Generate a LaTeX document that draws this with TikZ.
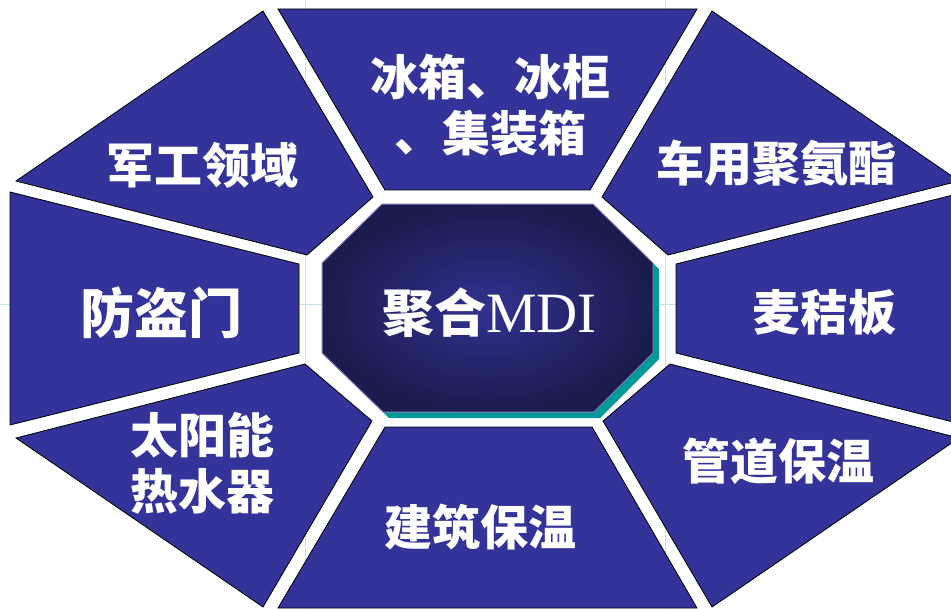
\documentclass[tikz,border=0pt]{standalone}
\usepackage{fontspec}
\newfontfamily\cjk{Noto Sans CJK SC}
\newfontfamily\latin{Liberation Serif}
\definecolor{segblue}{RGB}{51,51,153}
\definecolor{coredark}{RGB}{27,27,78}
\definecolor{corelight}{RGB}{50,50,145}
\definecolor{coreshadow}{RGB}{0,153,153}
\definecolor{guide}{RGB}{190,228,230}
\definecolor{coreedge}{RGB}{130,130,190}

\begin{document}
\begin{tikzpicture}[x=0.5pt,y=-0.5pt,
  seg/.style={fill=segblue,draw=black,line width=0.4pt},
  lbl/.style={text=white,align=center,inner sep=0pt,
              font=\fontsize{24}{28}\selectfont\cjk\bfseries}]
\clip (0,0) rectangle (951,609);
% slide guides
\draw[guide,line width=0.5pt] (305,0) -- (305,609);
\draw[guide,line width=0.5pt] (665,0) -- (665,609);
\draw[guide,line width=0.5pt] (0,304) -- (951,304);
% outer ring
\draw[seg] (278,9) -- (697,9) -- (590,190) -- (385,190) -- cycle;
\draw[seg] (712,11) -- (959,181) -- (668,255) -- (602,197) -- cycle;
\draw[seg] (965,192) -- (965,425) -- (676,353) -- (676,264) -- cycle;
\draw[seg] (959,438) -- (712,607) -- (603,421) -- (670,364) -- cycle;
\draw[seg] (697,608) -- (278,608) -- (385,427) -- (592,427) -- cycle;
\draw[seg] (263,607) -- (16,438) -- (305,364) -- (372,421) -- cycle;
\draw[seg] (10,425) -- (10,192) -- (299,264) -- (299,353) -- cycle;
\draw[seg] (16,181) -- (263,11) -- (373,197) -- (307,255) -- cycle;
% core
\fill[coreshadow,shift={(6,6)}] (382,204) -- (593,204) -- (653,263) -- (653,353)
  -- (594,412) -- (383,412) -- (322,353) -- (322,263) -- cycle;
\shade[inner color=corelight,outer color=coredark,draw=coreedge,line width=0.5pt]
  (382,204) -- (593,204) -- (653,263) -- (653,353)
  -- (594,412) -- (383,412) -- (322,353) -- (322,263) -- cycle;
\node[lbl,font=\fontsize{26}{30}\selectfont\cjk\bfseries] (C) at (489.5,313)
  {聚合{\latin\mdseries\fontsize{28.5}{30}\selectfont MDI}};
% labels
\node[lbl] (N)  at (490,105)   {冰箱、冰柜\\、集装箱};
\node[lbl] (NE) at (776.5,163) {车用聚氨酯};
\node[lbl] (E)  at (824,312.5) {麦秸板};
\node[lbl] (SE) at (778,461)   {管道保温};
\node[lbl] (S)  at (480,527.5) {建筑保温};
\node[lbl] (SW) at (202,463)   {太阳能\\热水器};
\node[lbl,font=\fontsize{27}{31}\selectfont\cjk\bfseries] (W) at (161,313) {防盗门};
\node[lbl] (NW) at (202,165)   {军工领域};
\end{tikzpicture}
\end{document}
